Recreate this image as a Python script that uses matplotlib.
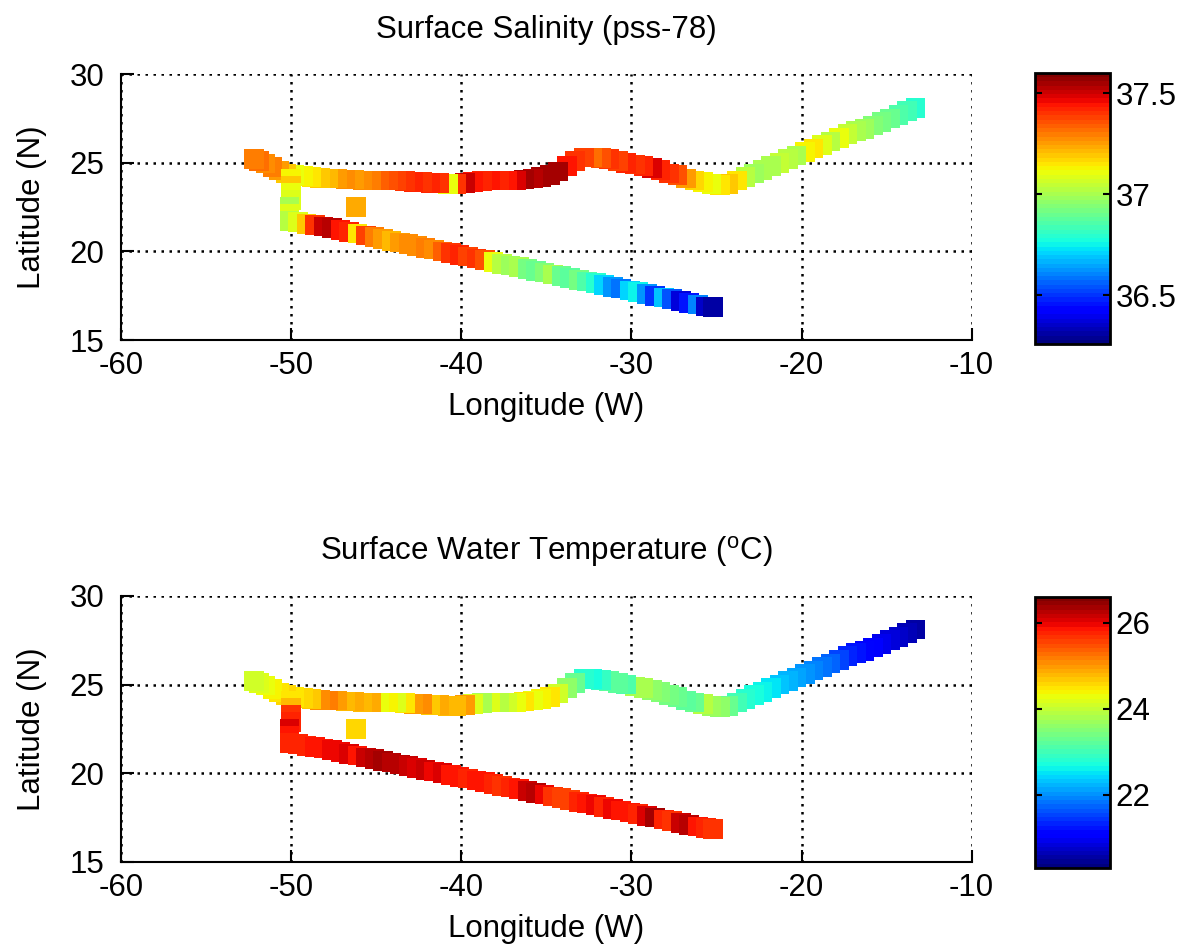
import matplotlib
matplotlib.use('Agg')
import matplotlib.pyplot as plt
import numpy as np

plt.rcParams['font.family'] = ['Liberation Sans', 'DejaVu Sans']
plt.rcParams['mathtext.default'] = 'regular'
plt.rcParams['axes.unicode_minus'] = False

# cruise track: east leg -> west along ~24N -> west end -> south at 50W -> ESE leg
lon = [-13.3, -13.8, -14.3, -14.8, -15.3, -15.8, -16.3, -16.8, -17.3, -17.8,
       -18.3, -18.8, -19.3, -19.8, -20.3, -20.8, -21.3, -21.8, -22.3, -22.8,
       -23.3, -23.8, -24.3,
       -24.8, -25.3, -25.8, -26.3, -26.8, -27.3, -27.8, -28.3, -28.8, -29.3,
       -29.8, -30.3, -30.8, -31.3, -31.8, -32.3, -32.8, -33.3, -33.8, -34.3, -34.8,
       -35.3, -35.8, -36.3, -36.8, -37.3, -37.8, -38.3, -38.8, -39.3, -39.8,
       -40.3, -40.8, -41.3, -41.8, -42.3, -42.8, -43.3, -43.8, -44.3, -44.8,
       -45.3, -45.8, -46.3, -46.8, -47.3, -47.8, -48.3, -48.8, -49.3, -49.8,
       -50.3, -50.7, -51.1, -51.5, -51.9, -52.2,
       -50.0, -50.0, -50.0, -50.0, -50.1, -50.1, -50.1,
       -49.6, -49.1, -48.6, -48.1, -47.6, -47.1, -46.6, -46.1, -45.6, -45.1,
       -44.6, -44.1, -43.6, -43.1, -42.6, -42.1, -41.6, -41.1, -40.6, -40.1,
       -39.6, -39.1, -38.6, -38.1, -37.6, -37.1, -36.6, -36.1, -35.6, -35.1,
       -34.6, -34.1, -33.6, -33.1, -32.6, -32.1, -31.6, -31.1, -30.6, -30.1,
       -29.6, -29.1, -28.6, -28.1, -27.6, -27.1, -26.6, -26.1, -25.6, -25.2,
       -46.2]
lat = [28.1, 27.9, 27.7, 27.5, 27.3, 27.1, 26.9, 26.8, 26.6, 26.4,
       26.2, 26.0, 25.8, 25.6, 25.4, 25.2, 25.0, 24.8, 24.6, 24.4,
       24.2, 24.0, 23.8,
       23.75, 23.8, 23.9, 24.0, 24.1, 24.3, 24.4, 24.6, 24.7, 24.8,
       24.9, 25.0, 25.1, 25.2, 25.25, 25.3, 25.3, 25.1, 24.8, 24.5, 24.3,
       24.2, 24.1, 24.05, 24.0, 24.0, 24.0, 24.0, 23.95, 23.9, 23.85,
       23.8, 23.8, 23.85, 23.85, 23.9, 23.9, 23.95, 24.0, 24.0, 24.0,
       24.0, 24.0, 24.05, 24.05, 24.1, 24.1, 24.15, 24.2, 24.25, 24.3,
       24.4, 24.55, 24.75, 24.95, 25.1, 25.2,
       24.1, 23.7, 23.3, 22.9, 22.5, 22.1, 21.7,
       21.65, 21.55, 21.5, 21.4, 21.3, 21.2, 21.1, 21.0, 20.9, 20.8,
       20.7, 20.6, 20.5, 20.4, 20.3, 20.2, 20.1, 20.0, 19.9, 19.8,
       19.7, 19.6, 19.5, 19.4, 19.3, 19.2, 19.1, 19.0, 18.9, 18.8,
       18.7, 18.6, 18.5, 18.4, 18.3, 18.2, 18.1, 18.0, 17.9, 17.8,
       17.7, 17.6, 17.5, 17.4, 17.3, 17.2, 17.1, 17.0, 16.9, 16.85,
       22.5]
salinity = [36.80, 36.84, 36.86, 36.90, 36.92, 36.95, 36.98, 37.00, 37.05, 37.10,
            37.02, 37.08, 37.15, 37.12, 37.00, 37.02, 37.05, 37.00, 37.00, 36.98,
            37.03, 37.15, 37.20,
            37.15, 37.10, 37.12, 37.18, 37.25, 37.35, 37.40, 37.42, 37.48, 37.42,
            37.40, 37.42, 37.38, 37.40, 37.35, 37.32, 37.38, 37.40, 37.45, 37.55, 37.55,
            37.55, 37.52, 37.55, 37.48, 37.45, 37.42, 37.45, 37.42, 37.45, 37.50,
            37.40, 37.10, 37.40, 37.42, 37.40, 37.42, 37.40, 37.38, 37.35, 37.33,
            37.30, 37.28, 37.25, 37.27, 37.25, 37.22, 37.20, 37.15, 37.12, 37.10,
            37.20, 37.25, 37.30, 37.28, 37.32, 37.30,
            37.12, 37.20, 37.10, 37.08, 37.00, 37.08, 37.02,
            37.08, 37.20, 37.40, 37.50, 37.52, 37.45, 37.42, 37.15, 37.38, 37.30,
            37.25, 37.22, 37.25, 37.27, 37.28, 37.30, 37.28, 37.33, 37.40, 37.42,
            37.38, 37.40, 37.35, 37.10, 37.02, 36.98, 37.00, 36.92, 36.90, 36.95,
            37.00, 36.90, 36.88, 36.92, 36.85, 36.80, 36.72, 36.62, 36.58, 36.72,
            36.76, 36.62, 36.50, 36.68, 36.55, 36.38, 36.45, 36.60, 36.35, 36.32,
            37.23]
temperature = [20.5, 20.6, 20.7, 20.8, 20.9, 21.0, 21.1, 21.2, 21.3, 21.5,
               21.7, 21.8, 21.9, 22.0, 22.1, 22.2, 22.3, 22.5, 22.6, 22.7,
               22.8, 23.0, 23.3,
               23.6, 23.7, 23.9, 23.3, 23.2, 23.3, 23.4, 23.5, 23.6, 23.8,
               23.8, 23.1, 23.2, 23.2, 22.9, 22.7, 22.8, 23.3, 23.6, 24.1, 24.5,
               24.4, 24.3, 24.5, 24.3, 24.1, 23.9, 24.2, 23.8, 24.2, 25.0,
               24.8, 24.8, 24.9, 24.7, 25.1, 25.0, 24.5, 24.2, 24.4, 24.3,
               24.9, 24.8, 24.9, 24.8, 25.0, 25.2, 25.1, 24.7, 24.6, 24.5,
               24.6, 24.5, 24.4, 24.3, 24.2, 24.1,
               24.5, 24.8, 25.7, 25.8, 26.1, 25.9, 25.8,
               25.8, 25.8, 25.9, 25.9, 26.0, 26.0, 26.1, 25.9, 26.2, 26.3,
               26.4, 26.3, 26.3, 26.2, 26.1, 26.2, 26.0, 26.1, 25.9, 25.9,
               25.8, 25.9, 25.9, 25.8, 25.7, 25.8, 25.9, 26.2, 26.3, 26.0,
               25.7, 25.6, 25.6, 25.8, 25.9, 26.0, 25.8, 26.0, 25.9, 25.9,
               25.8, 26.1, 26.4, 25.8, 25.7, 26.2, 26.3, 25.9, 25.8, 25.7,
               24.6]

sal_range = (36.26, 37.6)
temp_range = (20.3, 26.6)
sal_ticks = [36.5, 37, 37.5]
temp_ticks = [22, 24, 26]

fs = 22.5
cmap = plt.get_cmap('jet', 64)

fig = plt.figure(figsize=(11.88, 9.49), dpi=100)

panels = [
    ([0.1019, 0.6417, 0.716, 0.2803], [0.8712, 0.6375, 0.0631, 0.2856],
     salinity, sal_range, sal_ticks, 'Surface Salinity (pss-78)'),
    ([0.1019, 0.0917, 0.716, 0.2803], [0.8712, 0.0854, 0.0631, 0.2856],
     temperature, temp_range, temp_ticks, 'Surface Water Temperature ($^{o}$C)'),
]

for ax_rect, cb_rect, vals, vr, cticks, title in panels:
    ax = fig.add_axes(ax_rect)
    sc = ax.scatter(lon, lat, c=vals, cmap=cmap, vmin=vr[0], vmax=vr[1],
                    marker='s', s=200, linewidths=0)
    ax.set_xlim(-60, -10)
    ax.set_ylim(15, 30)
    ax.set_xticks(np.arange(-60, -9, 10))
    ax.set_yticks(np.arange(15, 31, 5))
    ax.grid(True, linestyle=(0, (1, 2.2)), color='black', linewidth=1.8)
    ax.set_axisbelow(True)
    for side in ['top', 'right']:
        ax.spines[side].set_visible(False)
    for side in ['left', 'bottom']:
        ax.spines[side].set_linewidth(1.5)
    ax.tick_params(direction='in', length=9, width=1.5, labelsize=fs)
    ax.tick_params(axis='x', pad=8)
    ax.tick_params(axis='y', pad=12)
    ax.set_xlabel('Longitude (W)', fontsize=fs, labelpad=8)
    ax.set_ylabel('Latitude (N)', fontsize=fs, labelpad=16)
    ax.set_title(title, fontsize=fs, pad=26)

    cax = fig.add_axes(cb_rect)
    cb = fig.colorbar(sc, cax=cax, ticks=cticks)
    cb.outline.set_linewidth(2)
    cax.tick_params(direction='in', length=5, width=1.5, labelsize=fs,
                    left=True, right=True, pad=4)
    cax.set_yticklabels([('%g' % t) for t in cticks])

fig.savefig('out.png', dpi=100)
